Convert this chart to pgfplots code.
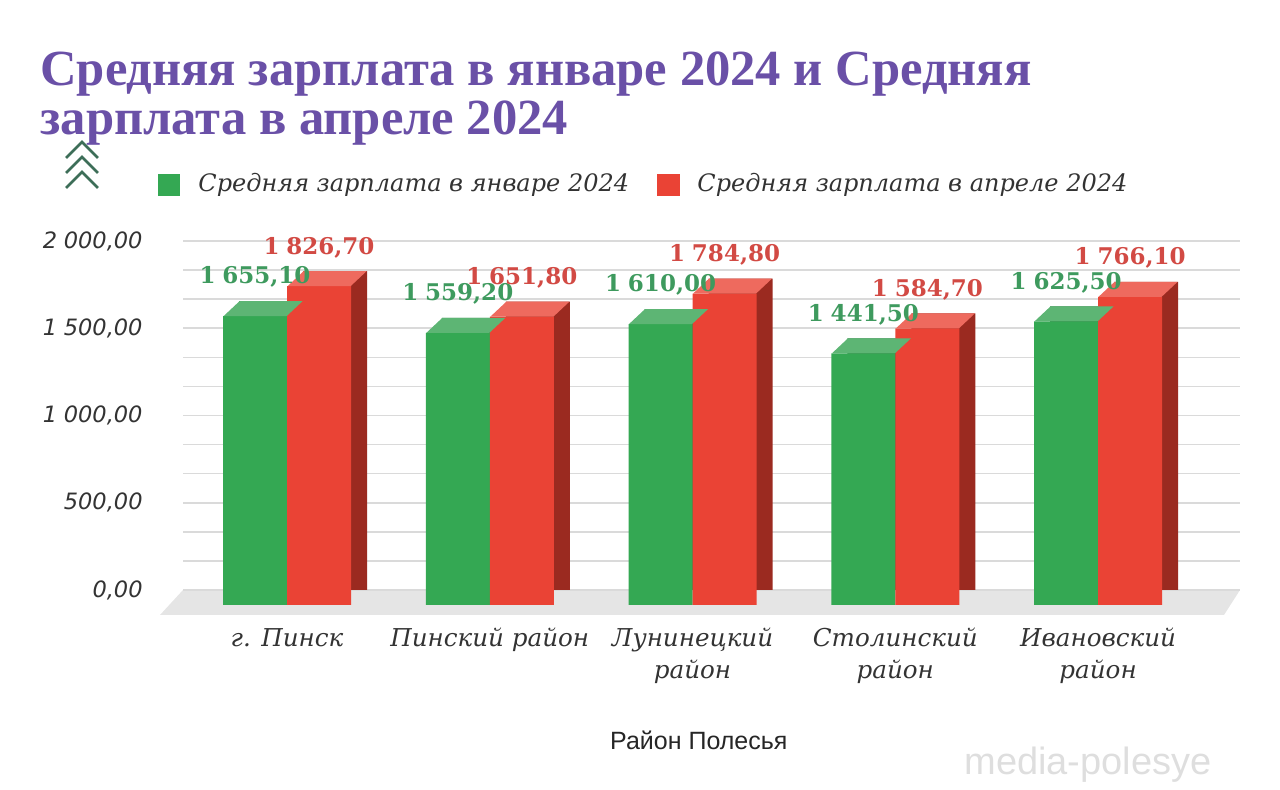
\documentclass[border=0pt]{standalone}
\usepackage{fontspec}
\setmainfont{DejaVu Serif}
\newfontfamily\titlefont{Liberation Serif}
\newfontfamily\tickfont{DejaVu Sans}
\newfontfamily\labfont{Liberation Sans}
\usepackage{pgfplots}
\usepackage{pgfplotstable}
\pgfplotsset{compat=1.18}

\definecolor{gfront}{HTML}{34A853}
\definecolor{gside}{HTML}{23753A}
\definecolor{gtop}{HTML}{5DB574}
\definecolor{rfront}{HTML}{EA4335}
\definecolor{rside}{HTML}{9B2A20}
\definecolor{rtop}{HTML}{EE6A5E}
\definecolor{glab}{HTML}{3E9A5E}
\definecolor{rlab}{HTML}{D24A44}
\definecolor{ttl}{HTML}{6A50A7}
\definecolor{gridc}{HTML}{DADADA}
\definecolor{txt}{HTML}{333333}
\definecolor{chev}{HTML}{3D6E58}

% data: average salary, January and April 2024
\pgfplotstableread{
x jan apr
0 1655.10 1826.70
1 1559.20 1651.80
2 1610.00 1784.80
3 1441.50 1584.70
4 1625.50 1766.10
}\data

% top faces of the 3d bars (mark sits at the back top of the bar)
\pgfdeclareplotmark{topL}{%
  \pgfpathmoveto{\pgfpoint{-31.75pt}{0pt}}%
  \pgfpathlineto{\pgfpoint{-0.25pt}{0pt}}%
  \pgfpathlineto{\pgfpoint{-8.25pt}{-7.5pt}}%
  \pgfpathlineto{\pgfpoint{-39.75pt}{-7.5pt}}%
  \pgfpathclose\pgfusepathqfill}
\pgfdeclareplotmark{topR}{%
  \pgfpathmoveto{\pgfpoint{0.25pt}{0pt}}%
  \pgfpathlineto{\pgfpoint{31.75pt}{0pt}}%
  \pgfpathlineto{\pgfpoint{23.75pt}{-7.5pt}}%
  \pgfpathlineto{\pgfpoint{-7.75pt}{-7.5pt}}%
  \pgfpathclose\pgfusepathqfill}

\begin{document}
\begin{tikzpicture}
\useasboundingbox (0,0) rectangle (640pt,395pt);

% decorations in pixel units (y down from top)
\begin{scope}[shift={(0,395pt)}, x=0.5pt, y=-0.5pt]
  \node[anchor=base west, inner sep=0, text=ttl, font=\titlefont\bfseries\fontsize{25.3}{26}\selectfont]
    at (40,86) {Средняя зарплата в январе 2024 и Средняя};
  \node[anchor=base west, inner sep=0, text=ttl, font=\titlefont\bfseries\fontsize{25.3}{26}\selectfont]
    at (40,135) {зарплата в апреле 2024};
  \foreach \k in {0,1,2}
    \draw[chev, line width=1.4pt] (66,{158+15*\k}) -- (82,{142+15*\k}) -- (98,{158+15*\k});
  \fill[gfront] (158,174) rectangle (180,196);
  \node[anchor=west, inner sep=0, text=txt, font=\itshape\fontsize{12}{14}\selectfont] at (198,185) {Средняя зарплата в январе 2024};
  \fill[rfront] (657,174) rectangle (680,196);
  \node[anchor=west, inner sep=0, text=txt, font=\itshape\fontsize{12}{14}\selectfont] at (697,185) {Средняя зарплата в апреле 2024};
  \fill[black!10] (183,590) -- (1240,590) -- (1224,615) -- (160,615) -- cycle;
  \node[anchor=center, text=black!13, font=\labfont\fontsize{19}{20}\selectfont] at (1088,765) {media-polesye};
\end{scope}

\begin{axis}[
  at={(91.5pt,100pt)}, anchor=south west,
  scale only axis, width=528.5pt, height=174.5pt,
  clip=false,
  xmin=-0.592, xmax=4.621, ymin=0, ymax=2000,
  axis line style={draw=none},
  major tick length=0pt, minor tick length=0pt,
  ytick={0,500,1000,1500,2000},
  minor ytick={166.667,333.333,666.667,833.333,1166.667,1333.333,1666.667,1833.333},
  ymajorgrids, yminorgrids,
  major grid style={draw=gridc, line width=0.8pt},
  minor grid style={draw=gridc, line width=0.8pt},
  extra y ticks={0}, extra y tick labels={},
  extra y tick style={grid style={draw=black!65, line width=1pt}},
  /pgf/number format/.cd, fixed, fixed zerofill, precision=2, use comma,
    1000 sep={\kern0.3em}, assume math mode=true,
  /pgfplots/.cd,
  yticklabel style={font=\tickfont\itshape\fontsize{11.25}{13}\selectfont, text=txt, inner sep=0pt, xshift=-20pt},
  xtick={0,1,2,3,4},
  xticklabels={г. Пинск, Пинский район, {Лунинецкий\\район}, {Столинский\\район}, {Ивановский\\район}},
  xticklabel style={font=\itshape\fontsize{12.3}{16}\selectfont, text=txt, align=center, anchor=north, inner sep=0pt, xshift=-8pt, yshift=-19pt},
  xlabel={Район Полесья},
  xlabel style={font=\labfont\fontsize{12.5}{14}\selectfont, text=black!85, at={(axis description cs:0.488,-0.43)}, anchor=center},
]
% January: side, front, top
\addplot[ybar, bar width=32pt, bar shift=-16pt, fill=gside, draw=none, forget plot] table[x=x,y=jan]{\data};
\addplot[ybar, bar width=32pt, bar shift=-16pt, fill=gfront, draw=none, xshift=-8pt, yshift=-7.5pt, forget plot] table[x=x,y=jan]{\data};
\addplot[only marks, mark=topL, color=gtop, mark options={fill=gtop, draw=none}, forget plot] table[x=x,y=jan]{\data};
% April: side, front, top
\addplot[ybar, bar width=32pt, bar shift=16pt, fill=rside, draw=none, forget plot] table[x=x,y=apr]{\data};
\addplot[ybar, bar width=32pt, bar shift=16pt, fill=rfront, draw=none, xshift=-8pt, yshift=-7.5pt, forget plot] table[x=x,y=apr]{\data};
\addplot[only marks, mark=topR, color=rtop, mark options={fill=rtop, draw=none}, forget plot] table[x=x,y=apr]{\data};
% value labels
\addplot[draw=none, mark=none, forget plot, nodes near coords, point meta=y,
  nodes near coords style={anchor=south, inner sep=0pt, xshift=-24pt, yshift=6.5pt, text=glab, font=\bfseries\fontsize{11.5}{13}\selectfont}]
  table[x=x,y=jan]{\data};
\addplot[draw=none, mark=none, forget plot, nodes near coords, point meta=y,
  nodes near coords style={anchor=south, inner sep=0pt, xshift=8pt, yshift=6.5pt, text=rlab, font=\bfseries\fontsize{11.5}{13}\selectfont}]
  table[x=x,y=apr]{\data};
\end{axis}
\end{tikzpicture}
\end{document}
